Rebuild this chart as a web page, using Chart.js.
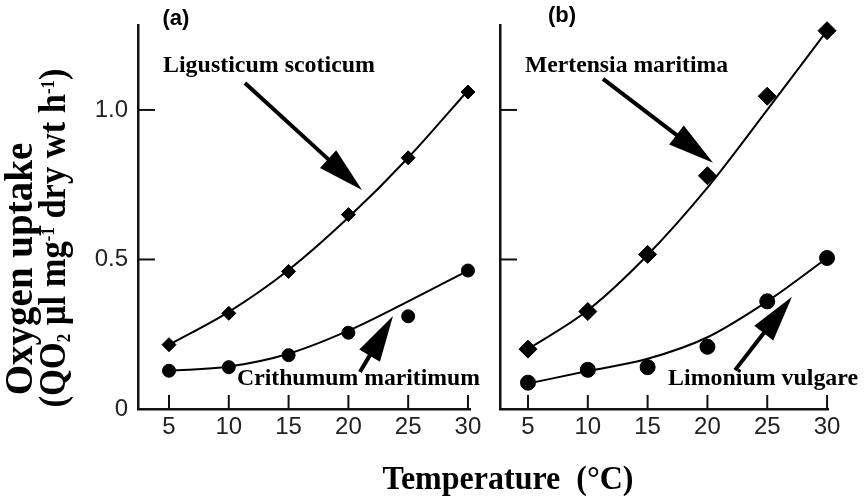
<!DOCTYPE html>
<html>
<head>
<meta charset="utf-8">
<script src="https://cdn.jsdelivr.net/npm/chart.js@4.4.1/dist/chart.umd.min.js"></script>
<style>
  body { margin: 0; background: #fff; }
  #wrap { position: relative; width: 866px; height: 500px; }
  canvas { position: absolute; left: 0; top: 0; }
</style>
</head>
<body>
<div id="wrap">
  <canvas id="chartA" width="866" height="500"></canvas>
  <canvas id="chartB" width="866" height="500"></canvas>
</div>
<script>
var temps = [5, 10, 15, 20, 25, 30]
var xTicks = [5, 10, 15, 20, 25, 30]
var yTicks = [0, 0.5, 1.0]

// panel (a)
var ligusticum = [0.215, 0.32, 0.46, 0.65, 0.84, 1.06]
var ligusticumFit = [0.215, 0.325, 0.465, 0.64, 0.84, 1.065]
var crithmum = [0.128, 0.14, 0.18, 0.255, 0.31, 0.463]
var crithmumFit = [0.128, 0.142, 0.185, 0.262, 0.36, 0.463]

// panel (b)
var mertensia = [0.20, 0.326, 0.517, 0.78, 1.046, 1.265]
var mertensiaFit = [0.20, 0.33, 0.515, 0.74, 1.0, 1.265]
var limonium = [0.088, 0.131, 0.14, 0.208, 0.36, 0.505]
var limoniumFit = [0.085, 0.127, 0.168, 0.24, 0.36, 0.505]

var serif = '"Liberation Serif", "Times New Roman", serif'
var sans = '"Liberation Sans", Arial, sans-serif'

function pts(ys) {
    return temps.map(function (t, i) { return { x: t, y: ys[i] } })
}

function curve(ys) {
    return {
        data: pts(ys), showLine: true, borderColor: '#000', borderWidth: 2,
        pointRadius: 0, cubicInterpolationMode: 'monotone', clip: false
    }
}

function marks(ys, style, r) {
    return {
        data: pts(ys), showLine: false, pointStyle: style, pointRadius: r,
        backgroundColor: '#000', borderColor: '#000', borderWidth: 1, clip: false
    }
}

function drawArrow(ctx, x1, y1, x2, y2) {
    var ang = Math.atan2(y2 - y1, x2 - x1)
    var len = 46, half = 12
    var bx = x2 - len * Math.cos(ang), by = y2 - len * Math.sin(ang)
    ctx.strokeStyle = '#000'
    ctx.fillStyle = '#000'
    ctx.lineWidth = 4
    ctx.beginPath()
    ctx.moveTo(x1, y1)
    ctx.lineTo(bx + 2 * Math.cos(ang), by + 2 * Math.sin(ang))
    ctx.stroke()
    ctx.beginPath()
    ctx.moveTo(x2, y2)
    ctx.lineTo(bx + half * Math.sin(ang), by - half * Math.cos(ang))
    ctx.lineTo(bx - half * Math.sin(ang), by + half * Math.cos(ang))
    ctx.closePath()
    ctx.fill()
}

// text with sub/superscripts, drawn along the current x direction, centred on 0
function drawRich(ctx, parts, target) {
    var total = 0
    parts.forEach(function (p) {
        ctx.font = p.font
        p.w = ctx.measureText(p.t).width
        total += p.w
    })
    var k = target / total
    ctx.save()
    ctx.scale(k, 1)
    var x = -total / 2
    ctx.textAlign = 'left'
    parts.forEach(function (p) {
        ctx.font = p.font
        ctx.fillText(p.t, x, p.dy)
        x += p.w
    })
    ctx.restore()
}

var extras = {
    id: 'extras',
    afterDatasetsDraw: function (chart, args, opts) {
        var ctx = chart.ctx
        var xs = chart.scales.x, ys = chart.scales.y
        var area = chart.chartArea
        ctx.save()
        // inward tick marks
        ctx.strokeStyle = '#111'
        ctx.lineWidth = 2
        xTicks.forEach(function (v) {
            var px = xs.getPixelForValue(v)
            ctx.beginPath()
            ctx.moveTo(px, area.bottom)
            ctx.lineTo(px, area.bottom - 14)
            ctx.stroke()
        })
        yTicks.forEach(function (v) {
            if (v === 0) return
            var py = ys.getPixelForValue(v)
            ctx.beginPath()
            ctx.moveTo(area.left, py)
            ctx.lineTo(area.left + 17, py)
            ctx.stroke()
        })
        // arrows
        opts.arrows.forEach(function (a) {
            drawArrow(ctx, xs.getPixelForValue(a[0]), ys.getPixelForValue(a[1]),
                xs.getPixelForValue(a[2]), ys.getPixelForValue(a[3]))
        })
        // species names
        ctx.fillStyle = '#000'
        ctx.textAlign = 'left'
        ctx.textBaseline = 'alphabetic'
        ctx.font = 'bold 24px ' + serif
        opts.labels.forEach(function (l) {
            ctx.fillText(l.text, xs.getPixelForValue(l.x), ys.getPixelForValue(l.y), l.w)
        })
        // panel letter
        ctx.font = 'bold 22px ' + sans
        ctx.fillText(opts.panel.text, xs.getPixelForValue(opts.panel.x), ys.getPixelForValue(opts.panel.y))

        if (opts.titles) {
            ctx.textAlign = 'center'
            ctx.font = 'bold 33px ' + serif
            ctx.fillText('Temperature  (\u00B0C)', 508, 489, 251)

            ctx.save()
            ctx.translate(32, 269)
            ctx.rotate(-Math.PI / 2)
            ctx.font = 'bold 39px ' + serif
            ctx.fillText('Oxygen uptake', 0, 0, 258)
            ctx.restore()

            ctx.save()
            ctx.translate(65, 238)
            ctx.rotate(-Math.PI / 2)
            var big = 'bold 37px ' + serif, small = 'bold 18px ' + serif
            drawRich(ctx, [
                { t: '(QO', font: big, dy: 0 },
                { t: '2', font: small, dy: 5 },
                { t: ' \u00B5l mg', font: big, dy: 0 },
                { t: '-1', font: small, dy: -11 },
                { t: ' dry wt h', font: big, dy: 0 },
                { t: '-1', font: small, dy: -11 },
                { t: ')', font: big, dy: 0 }
            ], 339)
            ctx.restore()
        }
        ctx.restore()
    }
}

function panelOptions(pad, xMin, xMax, yWidth, showY, notes) {
    return {
        responsive: false,
        animation: false,
        layout: { padding: pad },
        plugins: {
            legend: { display: false },
            tooltip: { enabled: false },
            extras: notes
        },
        scales: {
            x: {
                type: 'linear', min: xMin, max: xMax,
                grid: { display: false, drawTicks: false },
                border: { color: '#111', width: 2.5 },
                afterBuildTicks: function (s) { s.ticks = xTicks.map(function (v) { return { value: v } }) },
                afterFit: function (s) { s.height = 91 },
                ticks: { font: { family: sans, size: 24 }, color: '#222', padding: 4, maxRotation: 0, autoSkip: false }
            },
            y: {
                type: 'linear', min: 0, max: 1.284,
                grid: { display: false, drawTicks: false },
                border: { color: '#111', width: 2.5 },
                afterBuildTicks: function (s) { s.ticks = yTicks.map(function (v) { return { value: v } }) },
                afterFit: function (s) { s.width = yWidth },
                ticks: {
                    display: showY, font: { family: sans, size: 24 }, color: '#222', padding: 10,
                    callback: function (v) { return v === 0 ? '0' : v.toFixed(1) }
                }
            }
        }
    }
}

new Chart('chartA', {
    type: 'scatter',
    data: {
        datasets: [curve(ligusticumFit), curve(crithmumFit),
            marks(ligusticum, 'rectRot', 7), marks(crithmum, 'circle', 6.5)]
    },
    options: panelOptions({ left: 88, top: 25, right: 396, bottom: 0 }, 2.408, 30.17, 50, true, {
        arrows: [[11.35, 1.09, 21.14, 0.732], [20.97, 0.124, 23.73, 0.311]],
        labels: [
            { text: 'Ligusticum scoticum', x: 4.5, y: 1.127, w: 212 },
            { text: 'Crithumum maritimum', x: 10.69, y: 0.08, w: 243 }
        ],
        panel: { text: '(a)', x: 4.45, y: 1.284 },
        titles: true
    }),
    plugins: [extras]
})

new Chart('chartB', {
    type: 'scatter',
    data: {
        datasets: [curve(mertensiaFit), curve(limoniumFit),
            marks(mertensia, 'rectRot', 9), marks(limonium, 'circle', 7.5)]
    },
    options: panelOptions({ left: 490, top: 25, right: 38, bottom: 0 }, 2.66, 30.08, 10, false, {
        arrows: [[11.27, 1.104, 20.47, 0.823], [22.31, 0.13, 27.07, 0.375]],
        labels: [
            { text: 'Mertensia maritima', x: 4.75, y: 1.127, w: 203 },
            { text: 'Limonium vulgare', x: 16.71, y: 0.08, w: 190 }
        ],
        panel: { text: '(b)', x: 6.67, y: 1.294 },
        titles: false
    }),
    plugins: [extras]
})
</script>
</body>
</html>
